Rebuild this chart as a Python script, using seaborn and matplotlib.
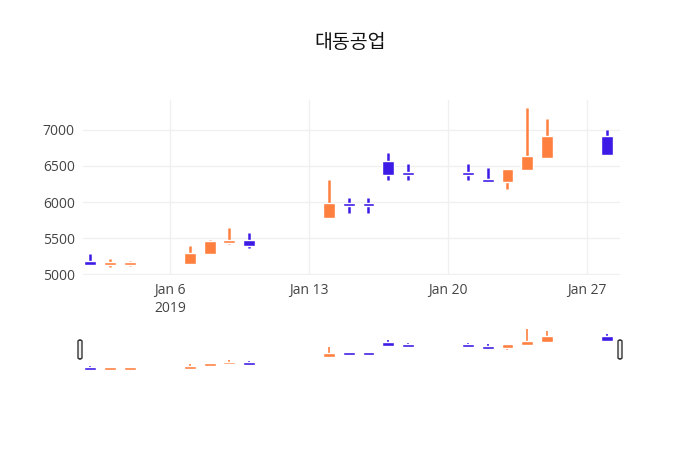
import matplotlib
matplotlib.use("Agg")
import matplotlib.pyplot as plt
import matplotlib.dates as mdates
import seaborn as sns
import pandas as pd
import numpy as np
from matplotlib.patches import FancyBboxPatch

dates = ["2019-01-02","2019-01-03","2019-01-04","2019-01-07","2019-01-08","2019-01-09","2019-01-10",
         "2019-01-14","2019-01-15","2019-01-16","2019-01-17","2019-01-18","2019-01-21","2019-01-22",
         "2019-01-23","2019-01-24","2019-01-25","2019-01-28"]
opens  = [5190,5140,5145,5140,5280,5440,5470,5780,5985,5980,6575,6410,6410,6310,6285,6440,6605,6910]
closes = [5130,5160,5160,5290,5465,5475,5385,5985,5945,5950,6380,6370,6370,6290,6460,6635,6910,6650]
highs  = [5280,5210,5180,5385,5470,5640,5570,6310,6055,6055,6680,6530,6530,6470,6460,7300,7150,7005]
lows   = [5130,5100,5115,5140,5280,5415,5370,5780,5855,5855,6310,6300,6300,6290,6180,6440,6605,6650]
title = "대동공업"

df = pd.DataFrame({"date": pd.to_datetime(dates), "open": opens, "close": closes, "high": highs, "low": lows})
UP, DOWN = "#FF7F3F", "#3D1AE5"
df["color"] = np.where(df["close"] >= df["open"], UP, DOWN)

sns.set_theme(style="white", rc={"font.family": "Open Sans"})
fig = plt.figure(figsize=(7, 4.5), dpi=100)
ax = fig.add_axes([83/700, 1-275/450, 537/700, 175/450])
sl = fig.add_axes([83/700, 1-372/450, 537/700, 44/450])

x0 = pd.Timestamp("2019-01-01") + pd.Timedelta(hours=15)
x1 = pd.Timestamp("2019-01-28") + pd.Timedelta(hours=16)

def draw(a, lw, minh):
    x = mdates.date2num(df["date"])
    a.vlines(x, df["low"], df["high"], colors=df["color"], linewidth=lw, zorder=2)
    lo = np.minimum(df["open"], df["close"]).astype(float)
    hi = np.maximum(df["open"], df["close"]).astype(float)
    mid = (lo + hi) / 2
    h = np.maximum(hi - lo, minh)
    a.bar(x, h, bottom=mid - h / 2, width=0.6, color=df["color"], zorder=3)
    a.set_xlim(mdates.date2num(x0), mdates.date2num(x1))

draw(ax, 1.8, 40)
ax.set_ylim(4990, 7414)
ax.set_yticks([5000, 5500, 6000, 6500, 7000])
ax.set_yticklabels(["5000", "5500", "6000", "6500", "7000"])
ticks = pd.to_datetime(["2019-01-06", "2019-01-13", "2019-01-20", "2019-01-27"])
ax.set_xticks(mdates.date2num(ticks))
ax.set_xticklabels(["Jan 6\n2019", "Jan 13", "Jan 20", "Jan 27"])
ax.grid(True, color="#f0f0f0", linewidth=1)
ax.set_axisbelow(True)
for s in ax.spines.values():
    s.set_visible(False)
ax.tick_params(length=0, labelsize=10, colors="#444444", pad=6)
ax.set_xlabel(""); ax.set_ylabel("")

draw(sl, 1.2, 150)
sl.set_ylim(min(lows) - 120, max(highs) + 30)
sl.set_xticks([]); sl.set_yticks([])
for s in sl.spines.values():
    s.set_visible(False)
sl.patch.set_alpha(0)

for hx in (78/700, 618/700):
    fig.patches.append(FancyBboxPatch((hx, 1-359/450), 4/700, 19/450, boxstyle="round,pad=0,rounding_size=0.003",
                                      transform=fig.transFigure, facecolor="#f2f2f2", edgecolor="#333333", linewidth=1))

fig.text(0.5, 1-42/450, title, ha="center", va="center", fontsize=14, color="#111111",
         fontfamily="Noto Sans CJK KR", fontweight="medium")
fig.savefig("out.png", dpi=100)
